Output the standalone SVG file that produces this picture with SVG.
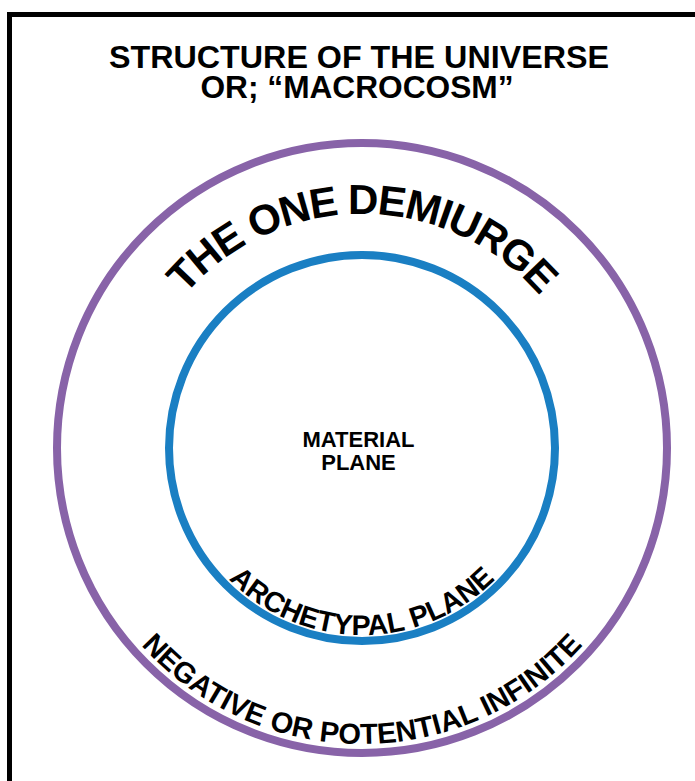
<svg xmlns="http://www.w3.org/2000/svg" xmlns:xlink="http://www.w3.org/1999/xlink" width="695" height="781" viewBox="0 0 695 781">
  <style>
    .t { font-family: "Liberation Sans", Arial, sans-serif; font-weight: bold; fill: #000; }
    .ring { fill: none; stroke-width: 8; }
  </style>
  <defs>
    <path id="arcDemiurge" d="M 128 448 A 234 234 0 0 1 596 448"/>
    <path id="arcArchetypal" d="M 175 448 A 187 187 0 0 0 549 448"/>
    <path id="arcNegative" d="M 66 448 A 296 296 0 0 0 658 448"/>
  </defs>
  <rect x="0" y="0" width="695" height="781" fill="#fff"/>
  <rect id="frame" x="9.5" y="14.5" width="720" height="820" fill="none" stroke="#000" stroke-width="5"/>
  <g id="title">
    <text class="t" x="359" y="68" font-size="32" text-anchor="middle" textLength="500" lengthAdjust="spacingAndGlyphs">STRUCTURE OF THE UNIVERSE</text>
    <text class="t" x="357" y="98" font-size="32" text-anchor="middle" textLength="313" lengthAdjust="spacingAndGlyphs">OR; “MACROCOSM”</text>
  </g>
  <g id="outer-circle">
    <circle class="ring" cx="362" cy="448" r="305" stroke="#8863a8"/>
    <text class="t" font-size="42" letter-spacing="-1.5"><textPath href="#arcDemiurge" xlink:href="#arcDemiurge" startOffset="50%" text-anchor="middle">THE ONE DEMIURGE</textPath></text>
    <text class="t" font-size="29"><textPath href="#arcNegative" xlink:href="#arcNegative" startOffset="50%" text-anchor="middle">NEGATIVE OR POTENTIAL INFINITE</textPath></text>
  </g>
  <g id="inner-circle">
    <circle class="ring" cx="362" cy="448" r="193" stroke="#1a7fc3"/>
    <text class="t" font-size="28.5"><textPath href="#arcArchetypal" xlink:href="#arcArchetypal" startOffset="50%" text-anchor="middle">ARCHETYPAL PLANE</textPath></text>
  </g>
  <g id="center">
    <text class="t" x="358.5" y="447" font-size="22" text-anchor="middle">MATERIAL</text>
    <text class="t" x="358.5" y="470" font-size="22" text-anchor="middle">PLANE</text>
  </g>
</svg>
